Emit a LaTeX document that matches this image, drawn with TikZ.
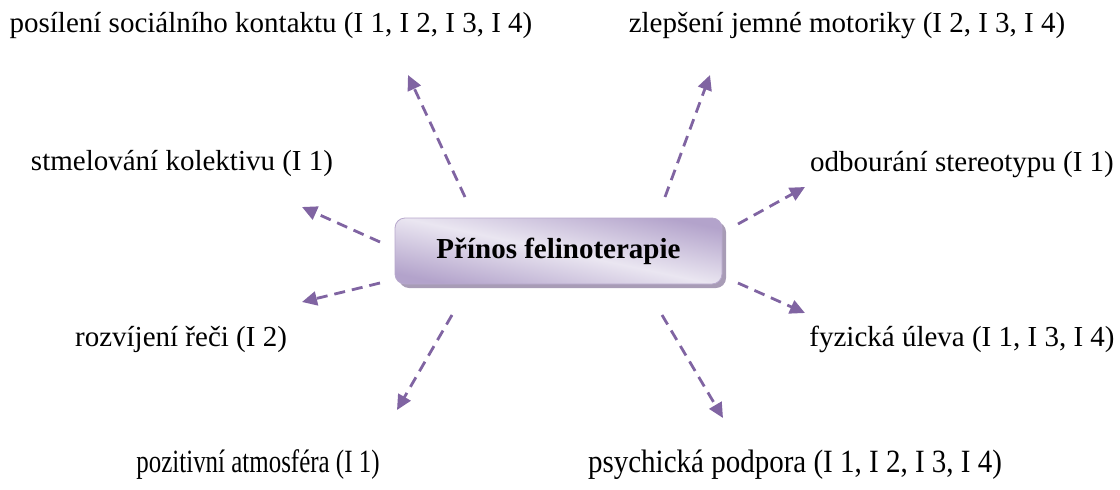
\documentclass[tikz,border=0pt]{standalone}
\usepackage{fontspec}
\setmainfont{Liberation Serif}
\usetikzlibrary{arrows.meta,shadows}
\definecolor{arrowpurple}{HTML}{8064A2}
\definecolor{boxdark}{HTML}{B3A3CB}
\definecolor{boxlight}{HTML}{EAE6F1}
\definecolor{boxedge}{HTML}{B7A8CC}
\definecolor{boxshadow}{HTML}{A89CB6}
\tikzset{
  lbl/.style={font=\fontsize{29}{34}\selectfont, inner sep=0pt, text=black},
  mainbox/.style={rounded corners=10pt, draw=boxedge, line width=0.8pt,
    minimum width=327pt, minimum height=66pt,
    top color=boxdark, bottom color=boxdark, middle color=boxlight, shading angle=-12,
    drop shadow={shadow xshift=4pt, shadow yshift=-4pt, fill=boxshadow, opacity=1},
    font=\bfseries\fontsize{29}{34}\selectfont},
  arr/.style={draw=arrowpurple, line width=2.8pt, dash pattern=on 11pt off 7pt,
    -{Triangle[length=15pt,width=14pt,fill=arrowpurple]}}
}
\newcommand{\tallboxA}[1]{\scalebox{0.86}[1.12]{#1}}
\newcommand{\tallboxB}[1]{\scalebox{1.0}[1.12]{#1}}
\begin{document}
\begin{tikzpicture}[x=1pt,y=-1pt]
\useasboundingbox (0,0) rectangle (1120,490);
\node[mainbox] (c) at (558.5,251) {Přínos felinoterapie};
\node[lbl] (t1) at (271,26) {posílení sociálního kontaktu (I 1, I 2, I 3, I 4)};
\node[lbl] (t2) at (847,26) {zlepšení jemné motoriky (I 2, I 3, I 4)};
\node[lbl] (t3) at (182,164) {stmelování kolektivu (I 1)};
\node[lbl] (t4) at (962,165) {odbourání stereotypu (I 1)};
\node[lbl] (t5) at (181,339) {rozvíjení řeči (I 2)};
\node[lbl] (t6) at (962,339) {fyzická úleva (I 1, I 3, I 4)};
\node[lbl] (t7) at (258,465) {\tallboxA{pozitivní atmosféra (I 1)}};
\node[lbl] (t8) at (795,465) {\tallboxB{psychická podpora (I 1, I 2, I 3, I 4)}};
\coordinate (s1) at (465,197); \coordinate (e1) at (408,75);
\coordinate (s2) at (665,197); \coordinate (e2) at (710,75);
\coordinate (s3) at (380,242); \coordinate (e3) at (302,207);
\coordinate (s4) at (380,283); \coordinate (e4) at (302,302);
\coordinate (s5) at (738,224); \coordinate (e5) at (805,187);
\coordinate (s6) at (738,283); \coordinate (e6) at (805,313);
\coordinate (s7) at (452,315); \coordinate (e7) at (397,410);
\coordinate (s8) at (662,315); \coordinate (e8) at (723,418);
\foreach \i in {1,...,8} {\draw[arr] (s\i) -- (e\i);}
\end{tikzpicture}
\end{document}
